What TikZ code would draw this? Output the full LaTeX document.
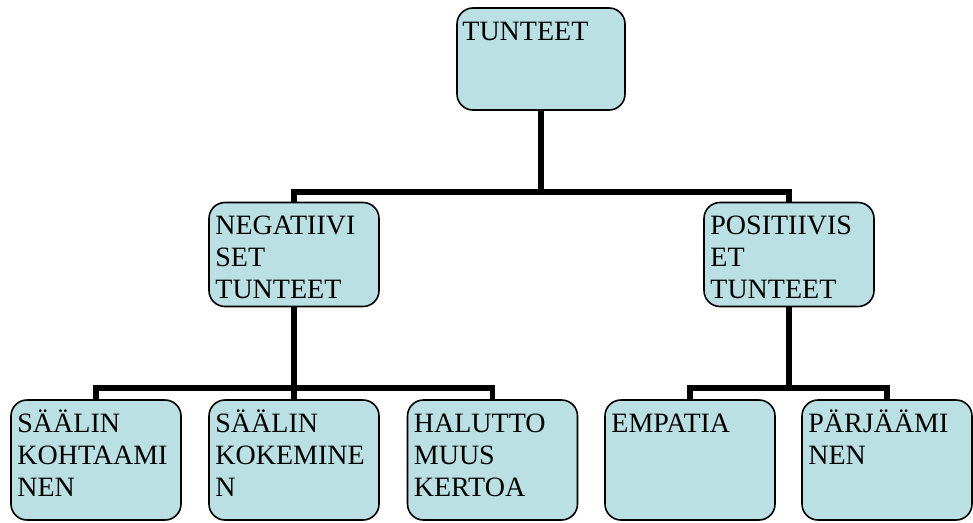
\documentclass[tikz,border=0pt]{standalone}
\usepackage{fontspec}
\setmainfont{Liberation Serif}
\definecolor{boxfill}{HTML}{BAE0E3}
\begin{document}
\begin{tikzpicture}[x=1pt,y=-1pt,
  orgbox/.style={draw=black, fill=boxfill, line width=1.6pt, rounded corners=16pt,
    inner sep=0pt, minimum width=170pt},
  upper/.style={orgbox, minimum height=104pt},
  lower/.style={orgbox, minimum height=120pt},
  label text/.style={anchor=base west, inner sep=0pt, font=\fontsize{28}{32}\selectfont},
  conn/.style={line width=5.5pt, line join=miter, draw=black}]
\useasboundingbox (0,0) rectangle (973,522);

% connector junction points
\coordinate (j1) at (541,192);
\coordinate (j2) at (294,388);
\coordinate (j3) at (789,388);

% boxes
\node[orgbox, minimum width=168pt, minimum height=102pt] (top) at (541,59) {};
\node[upper] (neg) at (294,254.5) {};
\node[upper] (pos) at (789,254.5) {};
\node[lower] (kohta) at (96,460) {};
\node[lower] (kok) at (294,460) {};
\node[lower] (halu) at (492.5,460) {};
\node[lower] (emp) at (690,460) {};
\node[lower] (parj) at (887,460) {};

% connectors
\draw[conn] (top.south) -- (j1);
\draw[conn] (neg.north) |- (j1) -| (pos.north);
\draw[conn] (neg.south) -- (kok.north);
\draw[conn] (kohta.north) |- (j2) -| (halu.north);
\draw[conn] (pos.south) -- (j3);
\draw[conn] (emp.north) |- (j3) -| (parj.north);

% box texts, first baseline 33pt below the top edge
\node[label text] (ttop) at ([shift={(6,33)}]top.north west) {\parbox[t]{160pt}{TUNTEET}};
\node[label text] (tneg) at ([shift={(7,33)}]neg.north west) {\parbox[t]{160pt}{NEGATIIVI\\SET\\TUNTEET}};
\node[label text] (tpos) at ([shift={(7,33)}]pos.north west) {\parbox[t]{160pt}{POSITIIVIS\\ET\\TUNTEET}};
\node[label text] (tkohta) at ([shift={(7,33)}]kohta.north west) {\parbox[t]{160pt}{SÄÄLIN\\KOHTAAMI\\NEN}};
\node[label text] (tkok) at ([shift={(7,33)}]kok.north west) {\parbox[t]{160pt}{SÄÄLIN\\KOKEMINE\\N}};
\node[label text] (thalu) at ([shift={(7,33)}]halu.north west) {\parbox[t]{160pt}{HALUTTO\\MUUS\\KERTOA}};
\node[label text] (temp) at ([shift={(7,33)}]emp.north west) {\parbox[t]{160pt}{EMPATIA}};
\node[label text] (tparj) at ([shift={(7,33)}]parj.north west) {\parbox[t]{160pt}{PÄRJÄÄMI\\NEN}};
\end{tikzpicture}
\end{document}
